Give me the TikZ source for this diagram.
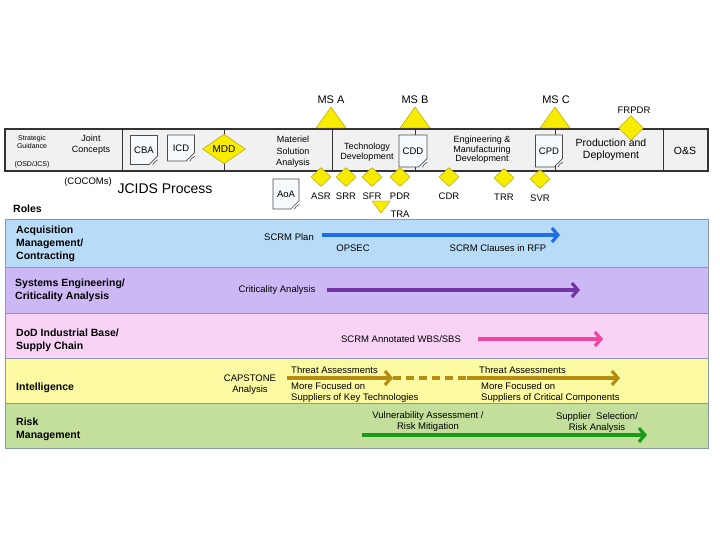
\documentclass[tikz,border=0pt]{standalone}
\usepackage{fontspec}
\setmainfont{Liberation Sans}
\usetikzlibrary{calc,arrows.meta,shapes.geometric,shapes.misc}
\tikzset{>={Straight Barb[length=6pt,width=14pt]}}

\definecolor{msyellow}{HTML}{F7EC00}
\definecolor{msedge}{HTML}{A89C00}
\definecolor{barfill}{HTML}{F1F1F1}
\definecolor{docfill}{HTML}{F7FAFC}
\definecolor{laneedge}{HTML}{8A98A8}
\definecolor{acqlane}{HTML}{B8DCF8}
\definecolor{selane}{HTML}{CDB8F6}
\definecolor{dodlane}{HTML}{F9D3F6}
\definecolor{intlane}{HTML}{FBFAA2}
\definecolor{risklane}{HTML}{C4DF9C}
\definecolor{acqarrow}{HTML}{1F6FE8}
\definecolor{searrow}{HTML}{7434A6}
\definecolor{dodarrow}{HTML}{F0449E}
\definecolor{intarrow}{HTML}{B58E10}
\definecolor{riskarrow}{HTML}{1C9A1C}

\tikzset{
  txt/.style={font=\fontsize{9.5}{11}\selectfont,inner sep=0pt,align=center},
  small/.style={font=\fontsize{7}{8}\selectfont,inner sep=0pt,align=center},
  role/.style={font=\bfseries\fontsize{10.5}{13}\selectfont,inner sep=0pt,align=left,anchor=west},
  mslbl/.style={font=\fontsize{11}{13}\selectfont,inner sep=0pt},
  review/.style={diamond,draw=msedge,fill=msyellow,inner sep=0pt,
    minimum width=20pt,minimum height=19pt,
    label={[txt,label distance=6pt]below:#1}},
  mstri/.style={draw=msedge,fill=msyellow,line join=round},
  docnode/.style={txt,chamfered rectangle,chamfered rectangle corners=south east,
    chamfered rectangle xsep=5pt,chamfered rectangle ysep=5pt,
    draw=black!70,fill=docfill,line width=0.6pt,minimum width=27pt,minimum height=29pt},
  lane/.style={draw=laneedge,line width=0.8pt},
  flow/.style={line width=3.2pt,->},
}

\begin{document}
\begin{tikzpicture}[x=1pt,y=-1pt]
  \useasboundingbox[fill=white] (0,0) rectangle (720,540);

  % acquisition timeline bar
  \draw[black!80,line width=1.4pt,fill=barfill] (5,129) rectangle (708,171);
  \foreach \x in {122,224,332,415,555,663}
    \draw[black!80,line width=1pt] (\x,129) -- (\x,171);

  \node[small] (strat) at (32,142) {Strategic\\Guidance};
  \node[small] (osd) at (32,165) {(OSD/JCS)};
  \node[txt,font=\fontsize{9}{11}\selectfont] (joint) at (91,145) {Joint\\Concepts};
  \node[txt,font=\fontsize{9}{11.5}\selectfont] (msa-ph) at (293,152) {Materiel\\Solution\\Analysis};
  \node[txt,font=\fontsize{9}{10.5}\selectfont] (td) at (367,152) {Technology\\Development};
  \node[txt,font=\fontsize{9}{9.5}\selectfont] (emd) at (482,150) {Engineering \&\\Manufacturing\\Development};
  \node[txt,font=\fontsize{10.5}{12}\selectfont] (pd) at (611,150) {Production and\\Deployment};
  \node[txt,font=\fontsize{10.5}{12}\selectfont] (os) at (685,151) {O\&S};

  % milestones
  \foreach \n/\x in {msa/331,msb/415,msc/555} {
    \coordinate (\n) at (\x,128);
    \draw[mstri] ($(\n)+(-15,0)$) -- ($(\n)+(0,-21)$) -- ($(\n)+(15,0)$) -- cycle;
  }
  \node[mslbl] (msalbl) at (331,100) {MS A};
  \node[mslbl] (msblbl) at (415,100) {MS B};
  \node[mslbl] (msclbl) at (556,100) {MS C};

  % documents
  \node[docnode] (cba) at (144,150) {\raisebox{-4pt}{CBA}};
  \node[docnode,minimum height=26pt] (icd) at (181,148) {\raisebox{-2pt}{ICD}};
  \node[docnode,minimum width=28pt,minimum height=32pt] (cdd) at (413,151) {CDD};
  \node[docnode,minimum height=32pt] (cpd) at (549,151) {CPD};
  \node[docnode,minimum width=26pt,minimum height=30pt] (aoa) at (286,194) {\raisebox{-4pt}{AoA}};
  \foreach \d in {cba,icd,cdd,cpd,aoa}
    \draw[black!70,line width=0.6pt,fill=white]
      ($(\d.south -| \d.east)+(0,-5)$) -- ($(\d.south -| \d.east)+(-3,-3)$) -- ($(\d.south -| \d.east)+(-5,0)$);

  \node[diamond,draw=msedge,fill=msyellow,inner sep=0pt,minimum width=43pt,minimum height=27pt,
    font=\fontsize{10}{12}\selectfont] (mdd) at (224,149) {MDD};
  \node[diamond,draw=msedge,fill=msyellow,inner sep=0pt,minimum width=25pt,minimum height=25pt] (frpdr) at (631,128) {};
  \node[txt] (frpdrlbl) at (634,110) {FRPDR};

  % technical reviews
  \node[review=ASR] (asr) at (321,177) {};
  \node[review=SRR] (srr) at (346,177) {};
  \node[review=SFR] (sfr) at (372,177) {};
  \node[review=PDR] (pdr) at (400,177) {};
  \node[review=CDR] (cdr) at (449,177) {};
  \node[review=TRR] (trr) at (504,178) {};
  \node[review=SVR] (svr) at (540,179) {};
  \coordinate (tra) at (381,201);
  \draw[mstri] ($(tra)+(-9,0)$) -- ($(tra)+(9,0)$) -- ($(tra)+(0,12)$) -- cycle;
  \node[txt] (tralbl) at (400,214) {TRA};

  \node[txt] (cocom) at (88,182) {(COCOMs)};
  \node[txt,font=\fontsize{14}{16}\selectfont] (jcids) at (165,189) {JCIDS Process};
  \node[role] (roles) at (13,209) {Roles};

  % role lanes
  \foreach \top/\bot/\col in {219/267/acqlane,267/313/selane,313/358/dodlane,358/403/intlane,403/448/risklane}
    \draw[lane,fill=\col] (5,\top) rectangle (708,\bot);

  \node[role] (acq) at (16,244) {Acquisition\\Management/\\Contracting};
  \node[role] (se) at (15,290) {Systems Engineering/\\Criticality Analysis};
  \node[role] (dod) at (16,340) {DoD Industrial Base/\\Supply Chain};
  \node[role] (intel) at (16,388) {Intelligence};
  \node[role] (risk) at (16,429) {Risk\\Management};

  \coordinate (acqs) at (322,235); \coordinate (acqe) at (560,235);
  \draw[flow,acqarrow] (acqs) -- (acqe);
  \node[txt] (plan) at (289,237) {SCRM Plan};
  \node[txt] (opsec) at (353,248) {OPSEC};
  \node[txt] (rfp) at (498,248) {SCRM Clauses in RFP};

  \coordinate (ses) at (327,290); \coordinate (see) at (580,290);
  \draw[flow,searrow] (ses) -- (see);
  \node[txt] (crit) at (277,290) {Criticality Analysis};

  \coordinate (dods) at (478,339); \coordinate (dode) at (603,339);
  \draw[flow,dodarrow] (dods) -- (dode);
  \node[txt] (wbs) at (401,339) {SCRM Annotated WBS/SBS};

  \coordinate (ta1) at (287,378); \coordinate (ta2) at (393,378);
  \coordinate (ta3) at (467,378); \coordinate (ta4) at (620,378);
  \draw[flow,intarrow] (ta1) -- (ta2);
  \draw[intarrow,line width=3.2pt,dash pattern=on 8pt off 5pt] (ta2) -- (ta3);
  \draw[flow,intarrow] (ta3) -- (ta4);
  \node[txt] (capstone) at (250,385) {CAPSTONE\\Analysis};
  \node[txt,anchor=west] (threat1) at (291,370) {Threat Assessments};
  \node[txt,anchor=west] (threat2) at (479,370) {Threat Assessments};
  \node[txt,anchor=west,align=left] (focus1) at (291,393) {More Focused on\\Suppliers of Key Technologies};
  \node[txt,anchor=west,align=left] (focus2) at (481,393) {More Focused on\\Suppliers of Critical Components};

  \coordinate (rms) at (362,435); \coordinate (rme) at (647,435);
  \draw[flow,riskarrow] (rms) -- (rme);
  \node[txt] (vuln) at (428,422) {Vulnerability Assessment /\\Risk Mitigation};
  \node[txt] (supp) at (597,423) {Supplier\ \ Selection/\\Risk Analysis};

\end{tikzpicture}
\end{document}
